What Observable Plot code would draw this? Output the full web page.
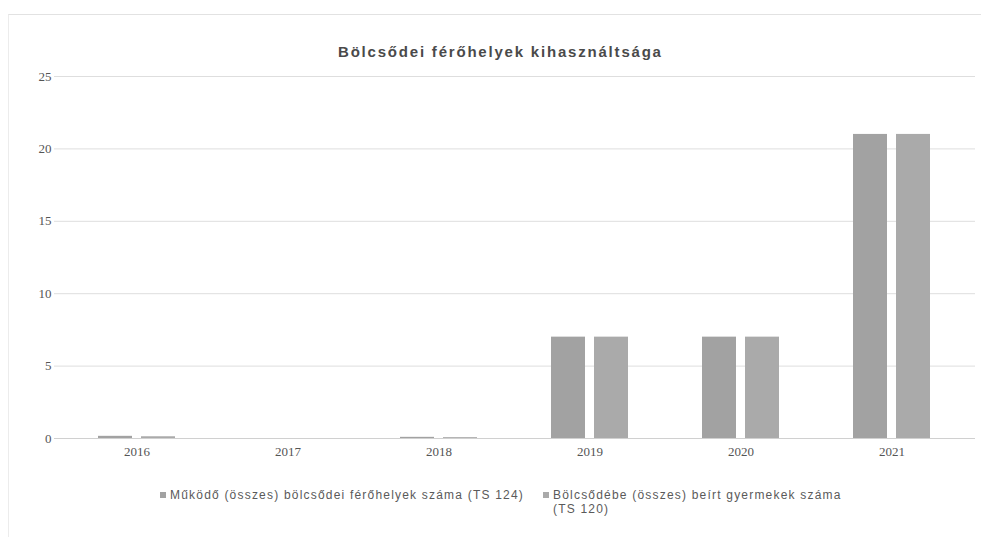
<!DOCTYPE html>
<html><head><meta charset="utf-8">
<script src="https://cdn.jsdelivr.net/npm/d3@7"></script>
<script src="https://cdn.jsdelivr.net/npm/@observablehq/plot@0.6"></script>
<style>
body{margin:0;background:#fff;font-family:"Liberation Sans",Arial,sans-serif;}
#wrap{position:relative;width:981px;height:537px;overflow:hidden;}
#frame{position:absolute;left:8px;top:14px;width:980px;height:530px;border-top:1px solid #e2e2e2;border-left:1px solid #ececec;}
#title{position:absolute;top:43px;left:338px;width:330px;white-space:nowrap;text-align:left;font-weight:bold;font-size:15px;letter-spacing:1.8px;color:#4a4a4a;}
#chart{position:absolute;top:70px;left:0;}
.lg{position:absolute;font-size:12px;letter-spacing:1.2px;color:#5a5a5a;line-height:14px;font-family:"Liberation Sans",Arial,sans-serif;}
.sw{position:absolute;width:6px;height:6px;top:4px;}
</style></head>
<body><div id="wrap"><div id="frame"></div>
<div id="title">Bölcsődei férőhelyek kihasználtsága</div>
<div id="chart"></div>
<div id="legend"></div></div>
<script>
const years = ["2016","2017","2018","2019","2020","2021"];
const seriesNames = ["Működő (összes) bölcsődei férőhelyek száma (TS 124)", "Bölcsődébe (összes) beírt gyermekek száma (TS 120)"];
const placesValues = [0.15, 0, 0.08, 7, 7, 21];
const childrenValues = [0.12, 0, 0.06, 7, 7, 21];
const yTicks = [0, 5, 10, 15, 20, 25];
const colors = ["#a2a2a2", "#aaaaaa"];

const placesData = years.map((y, i) => ({year: y, value: placesValues[i]}));
const childrenData = years.map((y, i) => ({year: y, value: childrenValues[i]}));

const chart = Plot.plot({
  width: 981, height: 400,
  marginLeft: 58, marginRight: 12, marginTop: 6, marginBottom: 32,
  style: {fontFamily: "Liberation Serif, serif", fontSize: "13px", color: "#555"},
  x: {domain: years, padding: 0, label: null, tickSize: 0, tickPadding: 8},
  y: {domain: [0, 25], ticks: yTicks, label: null, tickSize: 0, tickPadding: 7},
  marks: [
    Plot.ruleY(yTicks, {stroke: "#dedede", strokeWidth: 1, insetLeft: -4, insetRight: -6}),
    Plot.barY(placesData, {x: "year", y: "value", fill: colors[0], insetLeft: 37, insetRight: 80}),
    Plot.barY(childrenData, {x: "year", y: "value", fill: colors[1], insetLeft: 80, insetRight: 37}),
    Plot.ruleY([0], {stroke: "#d0d0d0", insetLeft: -4, insetRight: -6})
  ]
});
document.getElementById("chart").appendChild(chart);

const legendPos = [{left: 160, width: 380}, {left: 543, width: 318}];
const legendTop = 488;
document.getElementById("legend").innerHTML = seriesNames.map((n, i) =>
  `<div class="lg" style="left:${legendPos[i].left}px;top:${legendTop}px;width:${legendPos[i].width}px;padding-left:10px;">` +
  `<span class="sw" style="left:0;background:${colors[i]}"></span>${n.replace("(TS ", "(TS&nbsp;")}</div>`).join("");
</script></body></html>
